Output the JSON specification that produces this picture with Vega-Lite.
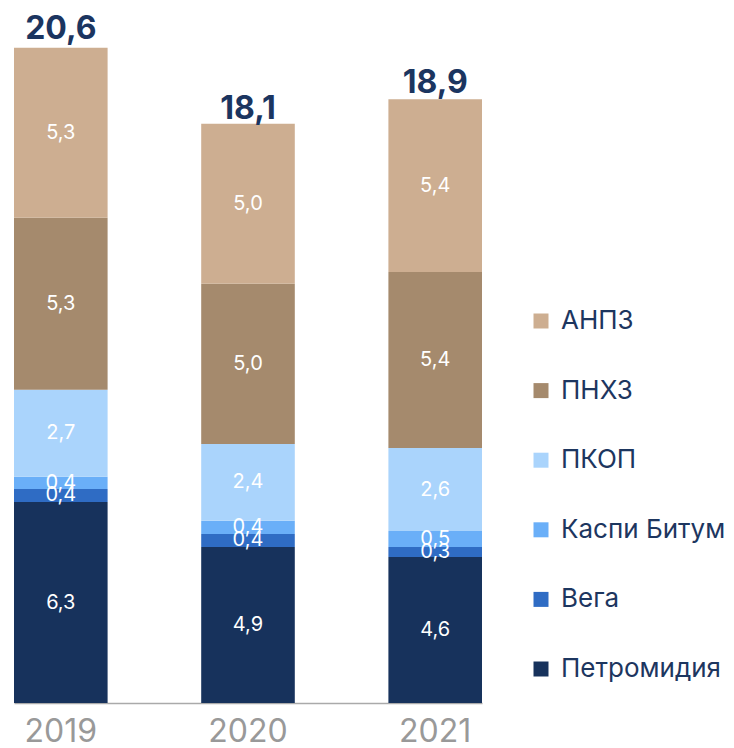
{
  "$schema": "https://vega.github.io/schema/vega-lite/v6.json",
  "width": 468,
  "height": 690,
  "autosize": {"type": "none"},
  "padding": {"left": 14, "top": 13, "right": 252, "bottom": 45},
  "background": "white",
  "config": {"view": {"stroke": null}, "font": "Inter"},
  "datasets": {
    "segments": [
      {"year": "2019", "company": "Петромидия", "ord": 1, "value": 6.3, "label": "6,3"},
      {"year": "2019", "company": "Вега", "ord": 2, "value": 0.41, "label": "0,4"},
      {"year": "2019", "company": "Каспи Битум", "ord": 3, "value": 0.38, "label": "0,4"},
      {"year": "2019", "company": "ПКОП", "ord": 4, "value": 2.73, "label": "2,7"},
      {"year": "2019", "company": "ПНХЗ", "ord": 5, "value": 5.39, "label": "5,3"},
      {"year": "2019", "company": "АНПЗ", "ord": 6, "value": 5.33, "label": "5,3"},
      {"year": "2020", "company": "Петромидия", "ord": 1, "value": 4.89, "label": "4,9"},
      {"year": "2020", "company": "Вега", "ord": 2, "value": 0.41, "label": "0,4"},
      {"year": "2020", "company": "Каспи Битум", "ord": 3, "value": 0.41, "label": "0,4"},
      {"year": "2020", "company": "ПКОП", "ord": 4, "value": 2.41, "label": "2,4"},
      {"year": "2020", "company": "ПНХЗ", "ord": 5, "value": 5.02, "label": "5,0"},
      {"year": "2020", "company": "АНПЗ", "ord": 6, "value": 5.02, "label": "5,0"},
      {"year": "2021", "company": "Петромидия", "ord": 1, "value": 4.58, "label": "4,6"},
      {"year": "2021", "company": "Вега", "ord": 2, "value": 0.31, "label": "0,3"},
      {"year": "2021", "company": "Каспи Битум", "ord": 3, "value": 0.5, "label": "0,5"},
      {"year": "2021", "company": "ПКОП", "ord": 4, "value": 2.6, "label": "2,6"},
      {"year": "2021", "company": "ПНХЗ", "ord": 5, "value": 5.52, "label": "5,4"},
      {"year": "2021", "company": "АНПЗ", "ord": 6, "value": 5.42, "label": "5,4"}
    ],
    "totals": [
      {"year": "2019", "total": 20.6, "label": "20,6"},
      {"year": "2020", "total": 18.1, "label": "18,1"},
      {"year": "2021", "total": 18.9, "label": "18,9"}
    ]
  },
  "encoding": {
    "x": {
      "field": "year",
      "type": "ordinal",
      "scale": {"paddingInner": 0.5, "paddingOuter": 0},
      "axis": {
        "title": null,
        "labelAngle": 0,
        "labelFontSize": 32,
        "labelColor": "#999999",
        "labelPadding": 13,
        "ticks": false,
        "domainColor": "#aaaaaa",
        "domainWidth": 1.5,
        "grid": false
      }
    }
  },
  "layer": [
    {
      "data": {"name": "segments"},
      "transform": [
        {"stack": "value", "groupby": ["year"], "sort": [{"field": "ord", "order": "ascending"}], "as": ["y0", "y1"]}
      ],
      "mark": {"type": "bar"},
      "encoding": {
        "y": {"field": "y1", "type": "quantitative", "scale": {"domain": [0, 21.63], "nice": false, "zero": true}, "axis": null},
        "y2": {"field": "y0"},
        "color": {
          "field": "company",
          "type": "nominal",
          "scale": {
            "domain": ["АНПЗ", "ПНХЗ", "ПКОП", "Каспи Битум", "Вега", "Петромидия"],
            "range": ["#cdae91", "#a58a6d", "#aad4fc", "#6aaff8", "#2f6cc4", "#17325c"]
          },
          "legend": {
            "title": null,
            "orient": "none",
            "legendX": 514,
            "legendY": 295,
            "padding": 0,
            "symbolType": "square",
            "symbolSize": 225,
            "symbolStrokeWidth": 0,
            "labelFontSize": 26,
            "labelColor": "#1d365f",
            "labelOffset": 7,
            "rowPadding": 43.6,
            "labelLimit": 300
          }
        }
      }
    },
    {
      "data": {"name": "segments"},
      "transform": [
        {"stack": "value", "groupby": ["year"], "sort": [{"field": "ord", "order": "ascending"}], "as": ["y0", "y1"]},
        {"calculate": "(datum.y0 + datum.y1) / 2", "as": "mid"}
      ],
      "mark": {"type": "text", "color": "white", "fontSize": 20, "baseline": "middle", "align": "center"},
      "encoding": {
        "y": {"field": "mid", "type": "quantitative"},
        "text": {"field": "label"}
      }
    },
    {
      "data": {"name": "totals"},
      "mark": {"type": "text", "color": "#1b3560", "fontSize": 32, "fontWeight": "bold", "baseline": "alphabetic", "align": "center", "dy": -7},
      "encoding": {
        "y": {"field": "total", "type": "quantitative"},
        "text": {"field": "label"}
      }
    }
  ]
}
